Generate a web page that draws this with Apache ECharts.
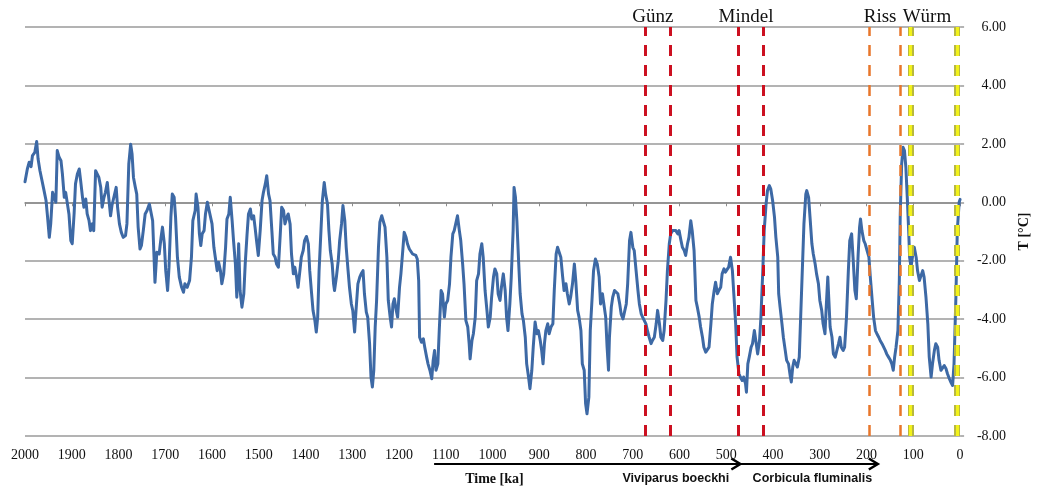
<!DOCTYPE html>
<html><head><meta charset="utf-8">
<script src="https://cdn.jsdelivr.net/npm/echarts@6/dist/echarts.min.js"></script>
<style>html,body{margin:0;padding:0;background:#fff}#c{width:1039px;height:493px}</style>
</head><body><div id="c"></div>
<script>
// ---- data: temperature record (T in °C) against time (ka before present) ----
const ka2000to1610 = [
2000,1998,1995,1991,1987,1984,1979,1975,1972,1968,
1965,1960,1955,1952,1948,1945,1941,1937,1934,1931,
1927,1923,1920,1916,1913,1909,1906,1902,1899,1895,
1892,1888,1884,1881,1877,1874,1870,1867,1863,1860,
1856,1853,1849,1845,1842,1838,1835,1831,1828,1824,
1821,1817,1814,1810,1805,1802,1798,1794,1790,1785,
1782,1778,1774,1771,1768,1764,1761,1758,1754,1751,
1747,1743,1739,1734,1731,1727,1724,1722,1718,1713,
1709,1706,1702,1699,1695,1692,1688,1685,1681,1678,
1674,1670,1665,1661,1658,1653,1648,1644,1641,1636,
1634,1630,1627,1624,1621,1617,1614,1610];
const t2000to1610 = [
0.70,0.74,1.14,1.37,1.22,1.60,1.71,2.08,1.48,1.08,
0.85,0.46,0.06,-0.46,-1.20,-0.74,0.34,0.40,0.00,1.77,
1.54,1.42,0.97,0.17,0.34,0.40,-0.40,-1.31,-1.42,-0.40,
0.63,0.97,1.14,0.74,0.17,-0.17,0.11,-0.40,-0.63,-0.97,
-0.74,-0.97,1.08,1.14,0.85,0.51,-0.17,0.17,0.34,0.68,
0.17,-0.46,-0.11,-0.06,0.51,-0.17,-0.74,-1.03,-1.20,-1.14,
-0.74,1.31,1.99,1.65,0.85,0.51,0.28,-0.85,-1.60,-1.48,
-0.97,-0.40,-0.28,-0.06,-0.11,-0.63,-1.88,-2.74,-1.71,-1.77,
-1.20,-0.85,-1.42,-2.34,-3.02,-2.22,-0.51,0.28,0.17,-0.51,
-1.88,-2.56,-2.91,-3.08,-2.79,-2.91,-2.68,-1.88,-0.63,-0.28,
0.28,-0.17,-1.08,-1.48,-1.08,-0.97,-0.40,0.00];

const ka1607to1206 = [
1607,1600,1596,1593,1589,1586,1582,1579,1575,1571,
1568,1564,1561,1557,1554,1550,1547,1543,1540,1536,
1532,1529,1525,1522,1518,1515,1511,1508,1504,1501,
1497,1493,1490,1486,1483,1479,1476,1472,1469,1465,
1462,1458,1454,1451,1447,1444,1440,1437,1433,1430,
1426,1423,1419,1416,1412,1409,1405,1402,1398,1394,
1391,1387,1384,1380,1377,1374,1371,1367,1364,1360,
1357,1353,1350,1347,1343,1340,1338,1334,1330,1327,
1323,1320,1316,1313,1309,1306,1302,1299,1295,1292,
1288,1284,1281,1277,1274,1270,1267,1263,1260,1257,
1254,1251,1248,1244,1241,1237,1233,1230,1226,1223,
1219,1216,1213,1210,1206];
const t1607to1206 = [
0.06,-0.74,-1.54,-1.88,-2.34,-2.05,-2.34,-2.79,-2.45,-1.54,
-0.57,-0.40,0.17,-0.63,-1.31,-2.11,-3.25,-1.42,-3.02,-3.59,
-3.13,-2.11,-1.08,-0.40,-0.23,-0.57,-0.46,-0.85,-1.42,-1.82,
-0.97,0.06,0.34,0.63,0.91,0.28,0.06,-0.97,-1.77,-1.88,
-2.11,-2.22,-1.08,-0.17,-0.28,-0.74,-0.51,-0.40,-0.74,-1.77,
-2.45,-2.22,-2.56,-2.91,-2.34,-1.88,-1.65,-1.31,-1.17,-1.42,
-2.34,-3.13,-3.70,-4.05,-4.44,-3.93,-2.34,-0.97,0.06,0.68,
0.28,-0.06,-0.97,-1.65,-2.11,-2.79,-3.02,-2.56,-1.99,-1.31,
-0.74,-0.11,-0.63,-1.54,-2.34,-2.91,-3.48,-3.70,-4.44,-3.70,
-2.79,-2.56,-2.45,-2.34,-3.13,-3.76,-3.93,-4.84,-5.98,-6.32,
-5.75,-4.27,-3.36,-1.54,-0.68,-0.46,-0.40,-0.85,-1.88,-3.36,
-3.93,-4.27,-3.48,-3.30,-3.70];

const ka1203to778 = [
1203,1199,1196,1192,1189,1185,1182,1178,1175,1171,
1168,1164,1161,1158,1156,1152,1148,1145,1141,1138,
1134,1130,1127,1124,1121,1117,1114,1110,1107,1103,
1100,1096,1092,1089,1085,1082,1078,1075,1071,1068,
1064,1061,1057,1053,1050,1048,1044,1041,1037,1034,
1030,1027,1023,1020,1016,1012,1009,1005,1002,998,
995,991,988,984,981,977,973,970,967,963,
960,956,954,951,948,944,941,937,934,930,
927,923,920,916,913,909,905,902,898,895,
892,889,886,882,879,875,871,868,864,861,
857,854,850,847,843,840,836,833,829,825,
822,818,815,811,808,804,801,798,794,791,
787,784,780,778];
const t1203to778 = [
-3.93,-2.91,-2.45,-1.65,-1.03,-1.20,-1.42,-1.60,-1.65,-1.77,
-1.82,-1.82,-1.94,-2.68,-4.62,-4.79,-4.67,-4.96,-5.30,-5.53,
-5.75,-6.04,-5.41,-5.07,-5.75,-5.53,-4.39,-3.02,-3.13,-3.93,
-3.48,-3.36,-2.79,-1.88,-1.08,-0.97,-0.91,-0.46,-0.97,-1.31,
-2.11,-2.79,-4.05,-4.27,-4.84,-5.36,-4.73,-4.50,-3.93,-2.68,
-2.45,-1.77,-1.42,-1.88,-3.02,-3.70,-4.27,-3.93,-3.25,-2.56,
-2.28,-2.45,-3.13,-3.36,-2.91,-2.45,-3.02,-3.93,-4.39,-3.48,
-2.56,-0.97,0.51,0.17,-0.63,-2.11,-3.13,-3.82,-4.05,-4.62,
-5.53,-5.98,-6.38,-5.75,-4.96,-4.10,-4.50,-4.39,-4.73,-5.07,
-5.53,-4.84,-4.39,-4.16,-4.50,-4.27,-4.16,-3.02,-1.77,-1.54,
-1.48,-1.88,-2.56,-3.02,-2.79,-3.13,-3.48,-3.25,-2.79,-2.11,
-2.68,-3.70,-3.93,-4.39,-5.53,-5.75,-6.89,-7.24,-6.67,-4.39,
-3.25,-2.34,-1.94,-1.88];

const ka776to390 = [
776,772,769,765,762,758,755,752,750,746,
743,739,735,732,728,725,721,718,714,711,
707,704,700,697,693,689,686,682,679,675,
672,668,665,661,658,654,650,647,643,640,
636,633,629,626,622,619,615,612,608,604,
601,597,594,590,587,583,580,576,573,569,
565,562,558,555,551,548,544,541,537,533,
530,526,523,519,516,512,509,505,502,498,
495,491,487,484,480,477,473,470,466,463,
459,457,454,451,447,444,440,436,433,429,
426,422,419,415,412,408,405,401,397,394,
390];
const t776to390 = [
-2.11,-2.56,-3.48,-3.13,-3.13,-3.93,-4.96,-5.75,-4.62,-3.59,
-3.25,-3.02,-2.96,-3.13,-3.48,-3.82,-3.99,-3.93,-3.48,-2.79,
-1.31,-1.03,-1.54,-1.65,-2.34,-3.02,-3.48,-3.82,-3.93,-3.99,
-4.16,-4.44,-4.62,-4.84,-4.73,-4.62,-4.16,-3.70,-4.16,-4.62,
-4.73,-4.39,-3.36,-2.34,-1.42,-1.08,-0.97,-0.91,-0.97,-1.08,
-0.97,-1.31,-1.54,-1.65,-1.82,-1.42,-1.20,-0.63,-0.97,-1.65,
-3.36,-3.59,-3.93,-4.27,-4.62,-4.96,-5.13,-5.13,-4.96,-4.16,
-3.48,-3.02,-2.74,-3.13,-3.02,-2.91,-2.45,-2.28,-2.39,-2.34,
-2.22,-1.88,-2.34,-3.13,-4.16,-5.30,-5.87,-5.98,-6.10,-5.98,
-6.21,-6.50,-5.53,-5.30,-4.96,-4.84,-4.39,-4.84,-5.19,-4.73,
-3.93,-2.34,-0.97,-0.06,0.40,0.57,0.46,0.06,-0.51,-1.20,
-1.88];

const ka388to0 = [
388,385,381,378,374,371,367,363,361,358,
355,351,348,344,341,337,334,330,328,324,
321,317,314,310,307,303,300,296,293,289,
286,283,281,278,274,271,267,264,260,257,
254,250,247,243,239,236,232,229,225,222,
218,215,213,210,206,203,199,195,192,188,
185,181,178,174,171,167,164,160,157,153,
149,146,143,140,137,133,130,128,125,122,
119,116,113,110,108,105,101,98,94,91,
87,84,80,77,73,69,66,62,59,55,
52,48,45,41,38,34,30,27,23,20,
16,13,9,6,2,0];
const t388to0 = [
-3.13,-3.59,-4.16,-4.62,-5.07,-5.41,-5.53,-5.98,-6.15,-5.64,
-5.41,-5.53,-5.64,-5.30,-3.93,-2.11,-0.74,0.28,0.40,0.17,
-0.51,-1.42,-1.77,-2.11,-2.45,-2.79,-3.36,-3.70,-4.16,-4.50,
-3.48,-2.56,-3.25,-4.27,-4.62,-5.19,-5.30,-5.30,-4.84,-4.62,
-4.96,-5.07,-4.96,-3.93,-2.34,-1.31,-1.08,-1.88,-3.02,-3.30,
-1.77,-0.85,-0.57,-0.97,-1.31,-1.42,-1.65,-1.88,-2.56,-3.36,
-3.93,-4.39,-4.50,-4.62,-4.73,-4.84,-4.90,-5.07,-5.19,-5.30,
-5.41,-5.53,-5.75,-5.30,-4.96,-4.39,-2.68,-0.40,1.31,1.88,
1.77,1.20,0.17,-0.97,-1.88,-2.22,-1.77,-1.54,-1.88,-2.34,
-2.68,-2.68,-2.34,-2.56,-3.25,-4.16,-5.30,-5.98,-5.53,-5.07,
-4.84,-4.96,-5.41,-5.75,-5.70,-5.59,-5.70,-5.87,-6.04,-6.15,
-6.27,-5.53,-3.25,-0.97,0.00,0.10];

// axis ranges / ticks
const xRange = [0, 2000];
const xStep = 100;
const yRange = [-8, 6];
const yStep = 2;

// glacial stage boundaries (ka) and labels
const redLinesKa = [673, 619, 475, 420];
const orangeLinesKa = [195, 128];
const yellowLinesKa = [106, 7];
const stageNames = ['Günz', 'Mindel', 'Riss', 'Würm'];
const stageLabelKa = [657, 458, 171, 71];

// bottom annotation: arrow (ka) and texts
const arrowKa = [1125, 470, 176];
const bottomTexts = ['Time [ka]', 'Viviparus boeckhi', 'Corbicula fluminalis'];
const bottomTextKa = [996, 608, 316];

// ---- build ----
const ageAll = [].concat(ka2000to1610, ka1607to1206, ka1203to778, ka776to390, ka388to0);
const tAll = [].concat(t2000to1610, t1607to1206, t1203to778, t776to390, t388to0);
const seriesData = ageAll.map((a, i) => [a, tAll[i]]);

const SERIF = '"Liberation Serif","Times New Roman",serif';
const chart = echarts.init(document.getElementById('c'), null, {renderer: 'canvas'});

function vline(v, color, width, dash) {
  return {xAxis: v, lineStyle: {color: color, width: width, type: dash}};
}

chart.setOption({
  animation: false,
  backgroundColor: '#fff',
  grid: {left: 25, right: 73, top: 27, bottom: 57, containLabel: false},
  xAxis: {
    type: 'value', inverse: true, min: xRange[0], max: xRange[1], interval: xStep,
    axisLine: {show: true, lineStyle: {color: '#8c8c8c', width: 1.5}},
    axisTick: {show: true, length: 4, lineStyle: {color: '#8c8c8c', width: 1}},
    splitLine: {show: false},
    axisLabel: {margin: 12, fontFamily: SERIF, fontSize: 14, color: '#111',
      formatter: v => String(v)}
  },
  yAxis: {
    type: 'value', position: 'right', min: yRange[0], max: yRange[1], interval: yStep,
    axisLine: {show: false},
    axisTick: {show: true, length: 4, lineStyle: {color: '#9a9a9a', width: 1.5}},
    splitLine: {show: true, lineStyle: {color: '#9a9a9a', width: 1.5}},
    axisLabel: {margin: 46, align: 'right', fontFamily: SERIF, fontSize: 14, color: '#111',
      formatter: v => v.toFixed(2)},
    name: 'T [°C]', nameLocation: 'middle', nameRotate: 90, nameGap: 53,
    nameTextStyle: {fontFamily: SERIF, fontSize: 14, fontWeight: 'bold', color: '#111'}
  },
  series: [
    {
      type: 'line', name: 'yellowOutline', data: [], silent: true,
      markLine: {silent: true, symbol: ['none', 'none'], label: {show: false},
        data: yellowLinesKa.map(v => vline(v, '#b8b840', 6, [11, 9]))}
    },
    {
      type: 'line', name: 'T', data: seriesData, showSymbol: false, z: 3,
      lineStyle: {color: '#3d69a5', width: 3, join: 'round', cap: 'round'},
      markPoint: {
        symbol: 'circle', symbolSize: 0, silent: true,
        label: {show: true, position: 'top', distance: 0, formatter: '{b}',
          fontFamily: SERIF, fontSize: 19, color: '#111'},
        data: stageNames.map((n, i) => ({name: n, coord: [stageLabelKa[i], yRange[1]]}))
      },
      markLine: {
        silent: true, symbol: ['none', 'none'], label: {show: false},
        data: redLinesKa.map(v => vline(v, '#cc1020', 3, [11, 9]))
          .concat(orangeLinesKa.map(v => vline(v, '#e8762a', 2.5, [11, 9])))
      }
    },
    {
      type: 'line', name: 'yellowFill', data: [], silent: true, z: 4,
      markLine: {silent: true, symbol: ['none', 'none'], label: {show: false},
        data: yellowLinesKa.map(v => vline(v, '#f2f21a', 3, [11, 9]))}
    }
  ]
});

// bottom arrow and texts placed with the x axis scale
const px = v => chart.convertToPixel({xAxisIndex: 0}, v);
const arrowY = 464;
const textY = 479;
const head = (x) => ({type: 'polyline', shape: {points: [[x - 9, arrowY - 5.5], [x, arrowY], [x - 9, arrowY + 5.5]]},
  style: {stroke: '#000', lineWidth: 2.5, fill: null}});
chart.setOption({
  graphic: [
    {type: 'line', shape: {x1: px(arrowKa[0]), y1: arrowY, x2: px(arrowKa[2]) - 1, y2: arrowY},
      style: {stroke: '#000', lineWidth: 2}},
    head(px(arrowKa[1])),
    head(px(arrowKa[2])),
    {type: 'text', x: px(bottomTextKa[0]), y: textY, style: {text: bottomTexts[0], fontFamily: SERIF,
      fontWeight: 'bold', fontSize: 14, fill: '#111', align: 'center', verticalAlign: 'middle'}},
    {type: 'text', x: px(bottomTextKa[1]), y: textY, style: {text: bottomTexts[1], fontFamily: '"Liberation Sans",Arial,sans-serif',
      fontWeight: 'bold', fontSize: 12.5, fill: '#111', align: 'center', verticalAlign: 'middle'}},
    {type: 'text', x: px(bottomTextKa[2]), y: textY, style: {text: bottomTexts[2], fontFamily: '"Liberation Sans",Arial,sans-serif',
      fontWeight: 'bold', fontSize: 12.5, fill: '#111', align: 'center', verticalAlign: 'middle'}}
  ]
});
</script></body></html>
